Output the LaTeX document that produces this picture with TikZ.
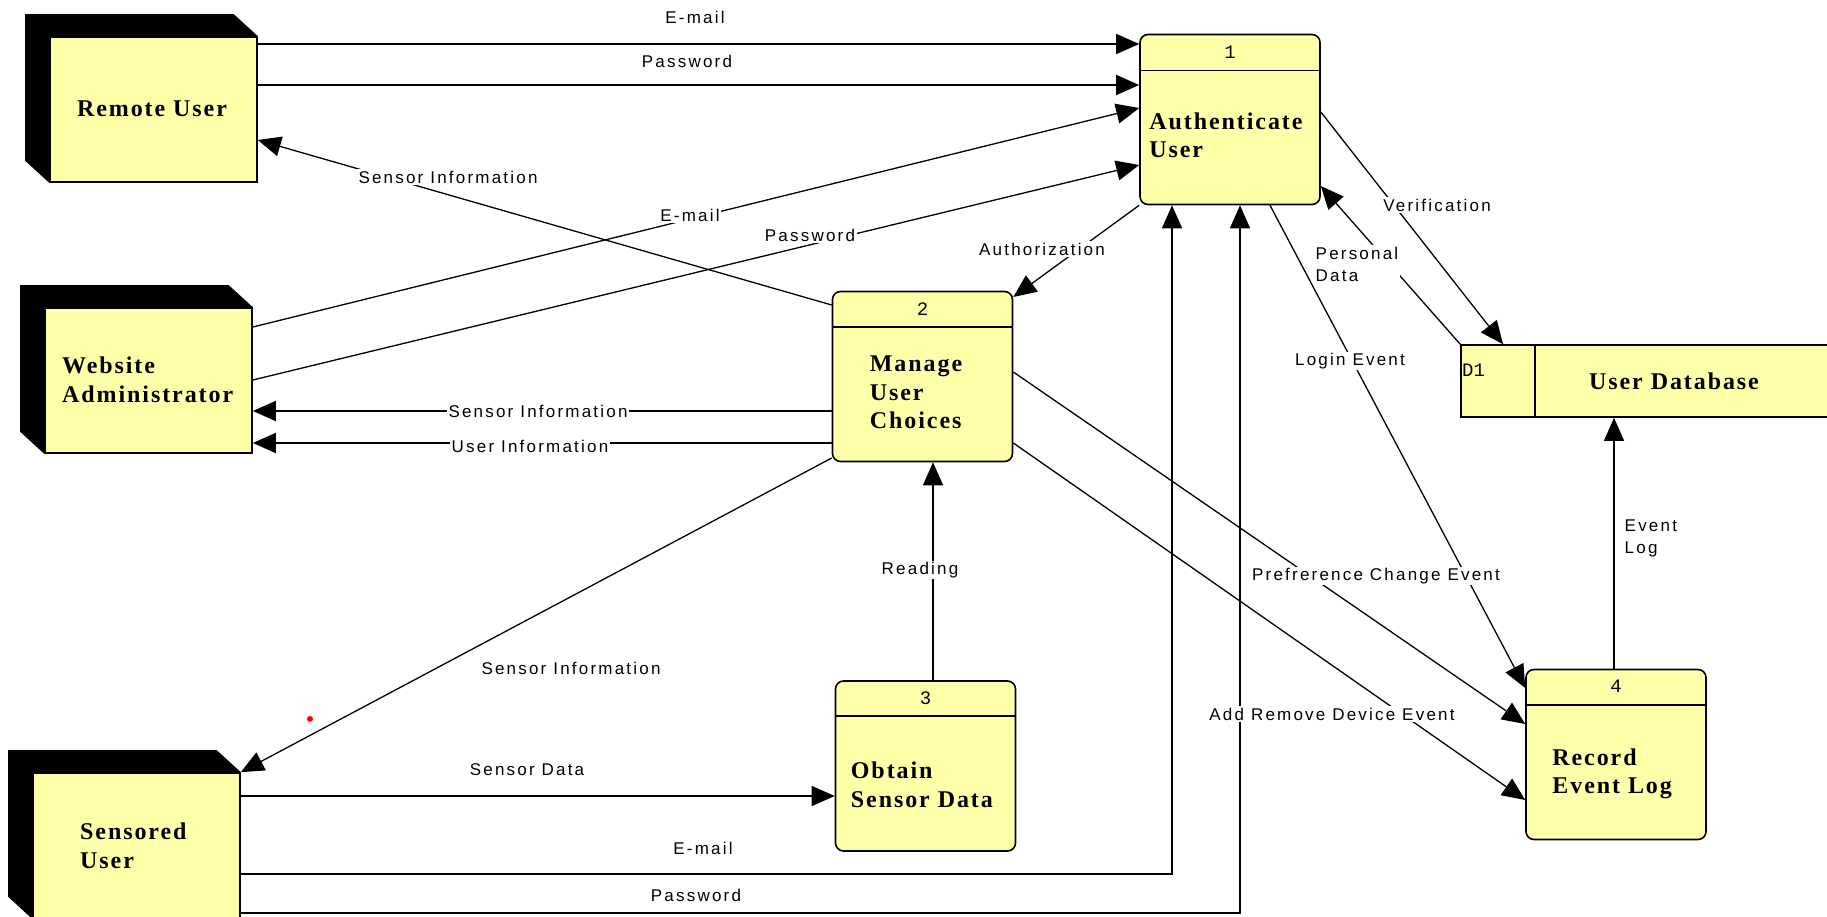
\documentclass[tikz,border=0pt]{standalone}
\usepackage{fontspec}
\usetikzlibrary{arrows.meta,calc}
\newfontfamily\ttlfont[LetterSpace=8]{Liberation Serif}
\newfontfamily\lblfont[LetterSpace=13]{Liberation Sans}
\newfontfamily\numfont{Liberation Mono}
\definecolor{boxyellow}{HTML}{FFFFAA}
\tikzset{
 entity/.style={draw=black, line width=1.6pt, fill=boxyellow, inner sep=0pt, minimum width=207, minimum height=145},
 proc/.style={draw=black, line width=1.6pt, fill=boxyellow, rounded corners=8pt, inner sep=0pt, minimum width=180, minimum height=170},
 store/.style={draw=black, line width=1.6pt, fill=boxyellow, inner sep=0pt},
 ttl/.style={font=\ttlfont\bfseries\fontsize{24}{28.5}\selectfont, align=left, inner sep=0pt, anchor=base west},
 num/.style={font=\numfont\fontsize{19}{19}\selectfont, inner sep=0pt},
 lbl/.style={font=\lblfont\fontsize{17}{22}\selectfont, inner sep=1.5pt, fill=white, align=left},
 flow/.style={line width=1.3pt, -{Triangle[length=23pt,width=20pt]}},
 hdr/.style={line width=1.6pt},
}
\newcommand\drawshadow[1]{%
  \fill[black] ($(#1.north west)+(-24,-22)$) -- ($(#1.north east)+(-24,-22)$) -- (#1.north east) -- (#1.north west) -- (#1.south west) -- ($(#1.south west)+(-24,-22)$) -- cycle;}
\begin{document}
\begin{tikzpicture}[x=1pt,y=-1pt]
\useasboundingbox (0,0) rectangle (1827,917);
\fill[white] (0,0) rectangle (1827,917);
\clip (0,0) rectangle (1827,917);

% external entities
\node[entity] (ru) at (153.5,109.5) {};
\drawshadow{ru}
\node[ttl, anchor=center] (ru-t) at (152,109) {Remote User};

\node[entity] (wa) at (148.5,380.5) {};
\drawshadow{wa}
\node[ttl] (wa-t) at (62,402) {Website\\Administrator};

\node[entity] (su) at (136.5,845.5) {};
\drawshadow{su}
\node[ttl] (su-t) at (80,868) {Sensored\\User};

% processes
\node[proc] (p1) at (1230,119.5) {};
\draw[hdr] ($(p1.north west)+(0,37)$) -- ($(p1.north east)+(0,37)$);
\node[num] (p1-n) at ($(p1.north)+(0,18.5)$) {1};
\node[ttl] (p1-t) at ($(p1.north west)+(10,124)$) {Authenticate\\User};

\node[proc] (p2) at (922.5,376.5) {};
\draw[hdr] ($(p2.north west)+(0,36)$) -- ($(p2.north east)+(0,36)$);
\node[num] (p2-n) at ($(p2.north)+(0,18)$) {2};
\node[ttl] (p2-t) at ($(p2.north west)+(38,138)$) {Manage\\User\\Choices};

\node[proc] (p3) at (925.5,766) {};
\draw[hdr] ($(p3.north west)+(0,36)$) -- ($(p3.north east)+(0,36)$);
\node[num] (p3-n) at ($(p3.north)+(0,18)$) {3};
\node[ttl] (p3-t) at ($(p3.north west)+(16,127)$) {Obtain\\Sensor Data};

\node[proc] (p4) at (1616,754.5) {};
\draw[hdr] ($(p4.north west)+(0,36)$) -- ($(p4.north east)+(0,36)$);
\node[num] (p4-n) at ($(p4.north)+(0,18)$) {4};
\node[ttl] (p4-t) at ($(p4.north west)+(27,125)$) {Record\\Event Log};

% data store
\node[store, minimum width=369, minimum height=72] (db) at (1645.5,381) {};
\draw[hdr] ($(db.north west)+(75,0)$) -- ($(db.south west)+(75,0)$);
\node[num, anchor=west] (d1) at (1462,370) {D1};
\node[ttl, anchor=center] (db-t) at (1674,381) {User Database};

% flows
\draw[flow] (ru.east |- 0,44) -- (p1.west |- 0,44);
\draw[flow] (ru.east |- 0,85) -- (p1.west |- 0,85);
\draw[flow] (p2.west |- 0,305) -- (ru.east |- 0,140);
\draw[flow] (wa.east |- 0,327) -- (p1.west |- 0,108);
\draw[flow] (wa.east |- 0,380) -- (p1.west |- 0,165);
\draw[flow] (p1.south west) -- (p2.east |- 0,297);
\draw[flow] (p2.west |- 0,411) -- (wa.east |- 0,411);
\draw[flow] (p2.west |- 0,443) -- (wa.east |- 0,443);
\draw[flow] (p2.west |- 0,458) -- (su.north east);
\draw[flow] (933,0 |- p3.north) -- (933,0 |- p2.south);
\draw[flow] (su.east |- 0,796) -- (p3.west |- 0,796);
\draw[flow] (su.east |- 0,874) -| (1172,0 |- p1.south);
\draw[flow] (su.east |- 0,913) -| (1240,0 |- p1.south);
\draw[flow] (p1.east |- 0,112) -- (1503,0 |- db.north);
\draw[flow] (db.north west) -- (p1.east |- 0,186);
\draw[flow] (1270,0 |- p1.south) -- (p4.west |- 0,688);
\draw[flow] (p2.east |- 0,372) -- (p4.west |- 0,724);
\draw[flow] (p2.east |- 0,443) -- (p4.west |- 0,800);
\draw[flow] (1614,0 |- p4.north) -- (1614,0 |- db.south);

% labels
\node[lbl] (l1) at (695,17) {E-mail};
\node[lbl] (l2) at (687,61) {Password};
\node[lbl] (l3) at (448,177) {Sensor Information};
\node[lbl] (l4) at (690,215) {E-mail};
\node[lbl] (l5) at (810,235) {Password};
\node[lbl] (l6) at (1042,249) {Authorization};
\node[lbl] (l7) at (1437,205) {Verification};
\node[lbl, anchor=west] (l8) at (1314,264) {Personal\\Data};
\node[lbl] (l9) at (1350,361) {Login Event};
\node[lbl] (l10) at (538,411) {Sensor Information};
\node[lbl] (l11) at (530,446) {User Information};
\node[lbl] (l12) at (920,570) {Reading};
\node[lbl, anchor=west] (l13) at (1623,538) {Event\\Log};
\node[lbl] (l14) at (1376,576) {Prefrerence Change Event};
\node[lbl] (l15) at (571,668) {Sensor Information};
\node[lbl] (l16) at (1332,714) {Add Remove Device Event};
\node[lbl] (l17) at (527,770) {Sensor Data};
\node[lbl] (l18) at (703,848) {E-mail};
\node[lbl] (l19) at (696,895) {Password};

\fill[red] (310,719) circle (3);
\end{tikzpicture}
\end{document}
